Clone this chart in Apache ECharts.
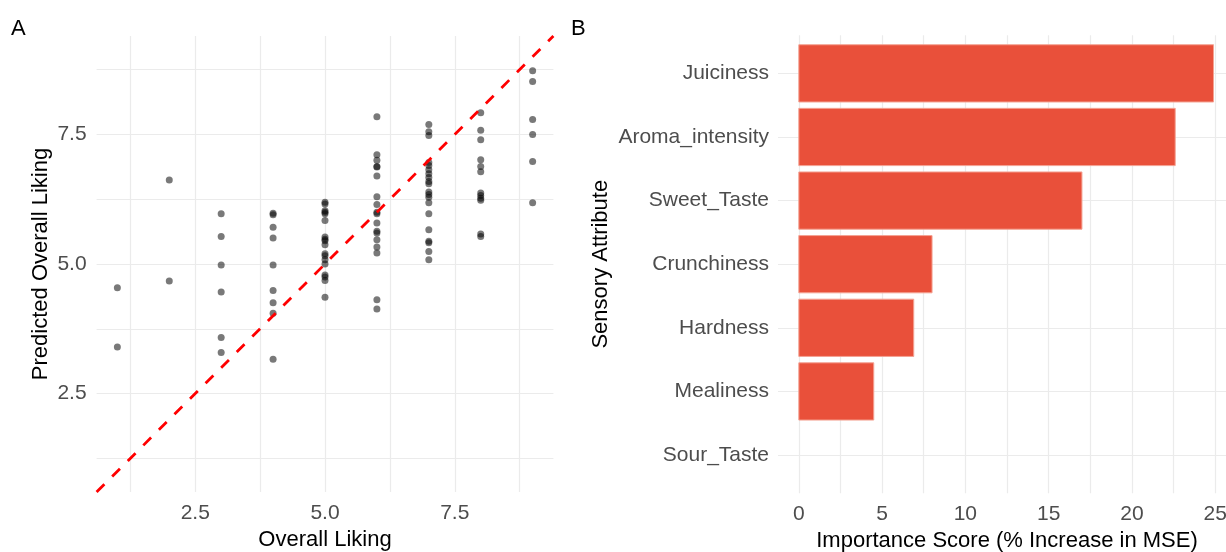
<!DOCTYPE html>
<html>
<head>
<meta charset="utf-8">
<script src="https://cdn.jsdelivr.net/npm/echarts@6/dist/echarts.min.js"></script>
<style>
html,body{margin:0;padding:0;background:#fff;}
#chart{width:1226px;height:552px;}
</style>
</head>
<body>
<div id="chart"></div>
<script>
// Panel A: observed vs predicted overall liking
const observedLiking = [
  1,1,
  2,2,
  3,3,3,3,3,3,
  4,4,4,4,4,4,4,4,4,
  5,5,5,5,5,5,5,5,5,5,5,5,5,5,5,5,5,5,
  6,6,6,6,6,6,6,6,6,6,6,6,6,6,6,6,6,6,
  7,7,7,7,7,7,7,7,7,7,7,7,7,7,7,7,7,7,7,7,
  8,8,8,8,8,8,8,8,8,8,8,8,
  9,9,9,9,9,9
];
const predictedLiking = [
  4.54,3.40,
  6.62,4.67,
  5.97,5.53,4.98,4.46,3.58,3.29,
  5.98,5.95,5.71,5.50,4.98,4.49,4.25,4.05,3.16,
  6.19,6.16,6.03,6.00,5.97,5.84,5.52,5.48,5.45,5.37,5.20,5.16,5.08,5.00,4.79,4.75,4.68,4.36,
  7.84,7.11,7.00,6.88,6.87,6.70,6.30,6.15,6.00,5.97,5.79,5.63,5.60,5.47,5.33,5.21,4.31,4.13,
  7.69,7.55,7.48,6.96,6.90,6.82,6.74,6.67,6.59,6.55,6.39,6.34,6.29,6.18,5.97,5.66,5.44,5.41,5.24,5.08,
  7.92,7.58,7.40,7.01,6.88,6.78,6.37,6.32,6.27,6.23,5.58,5.53,
  8.73,8.52,7.79,7.50,6.98,6.18
];
const likingRange = [0.6, 9.4];
const likingGridValues = [1.25, 2.5, 3.75, 5, 6.25, 7.5, 8.75];
const likingTickLabels = [2.5, 5, 7.5];

// Panel B: variable importance
const attributes = ['Juiciness','Aroma_intensity','Sweet_Taste','Crunchiness','Hardness','Mealiness','Sour_Taste'];
const importance = [24.9, 22.6, 17.0, 8.0, 6.9, 4.5, 0];
const importanceRange = [-1.25, 26.25];
const importanceGridValues = [0, 2.5, 5, 7.5, 10, 12.5, 15, 17.5, 20, 22.5, 25];
const importanceTickLabels = [0, 5, 10, 15, 20, 25];
const attributePositions = attributes.map((_, i) => i + 1);

const FONT = 'Liberation Sans, Arial, sans-serif';
const GRID_COLOR = '#EBEBEB';
const TICK_COLOR = '#4D4D4D';
const TICK_SIZE = 21;
const TITLE_SIZE = 22;
const BAR_COLOR = '#E9503A';

const chart = echarts.init(document.getElementById('chart'), null, {renderer: 'canvas'});

const splitLine = {show: true, lineStyle: {color: GRID_COLOR, width: 1.2}};

const option = {
  animation: false,
  backgroundColor: '#fff',
  textStyle: {fontFamily: FONT},
  graphic: [
    {type: 'text', left: 11, top: 18, style: {text: 'A', fontSize: 22, fontFamily: FONT, fill: '#000'}},
    {type: 'text', left: 571, top: 18, style: {text: 'B', fontSize: 22, fontFamily: FONT, fill: '#000'}}
  ],
  grid: [
    {left: 96.6, top: 36, width: 456.8, height: 456, containLabel: false, outerBoundsMode: 'none'},
    {left: 778, top: 35.2, width: 458, height: 458, containLabel: false, outerBoundsMode: 'none'}
  ],
  xAxis: [
    {
      type: 'value', gridIndex: 0, min: likingRange[0], max: likingRange[1],
      axisLine: {show: false},
      axisTick: {show: false, customValues: likingGridValues},
      axisLabel: {customValues: likingTickLabels, formatter: v => v.toFixed(1), color: TICK_COLOR, fontSize: TICK_SIZE, margin: 11, fontFamily: FONT},
      splitLine: splitLine,
      name: 'Overall Liking', nameLocation: 'middle', nameGap: 36,
      nameTextStyle: {color: '#000', fontSize: TITLE_SIZE, fontFamily: FONT}
    },
    {
      type: 'value', gridIndex: 1, min: importanceRange[0], max: importanceRange[1],
      axisLine: {show: false},
      axisTick: {show: false, customValues: importanceGridValues},
      axisLabel: {customValues: importanceTickLabels, color: TICK_COLOR, fontSize: TICK_SIZE, margin: 11, fontFamily: FONT},
      splitLine: splitLine,
      name: 'Importance Score (% Increase in MSE)', nameLocation: 'middle', nameGap: 35,
      nameTextStyle: {color: '#000', fontSize: TITLE_SIZE, fontFamily: FONT}
    }
  ],
  yAxis: [
    {
      type: 'value', gridIndex: 0, min: likingRange[0], max: likingRange[1],
      axisLine: {show: false},
      axisTick: {show: false, customValues: likingGridValues},
      axisLabel: {customValues: likingTickLabels, formatter: v => v.toFixed(1), color: TICK_COLOR, fontSize: TICK_SIZE, margin: 10, padding: [6, 0, 0, 0], fontFamily: FONT},
      splitLine: splitLine,
      name: 'Predicted Overall Liking', nameLocation: 'middle', nameGap: 45,
      nameTextStyle: {color: '#000', fontSize: TITLE_SIZE, fontFamily: FONT}
    },
    {
      type: 'value', gridIndex: 1, min: 0.4, max: attributes.length + 0.6, inverse: true,
      axisLine: {show: false},
      axisTick: {show: false, customValues: attributePositions},
      axisLabel: {customValues: attributePositions, formatter: v => attributes[Math.round(v) - 1], color: TICK_COLOR, fontSize: TICK_SIZE, margin: 9, padding: [3, 0, 0, 0], fontFamily: FONT},
      splitLine: splitLine,
      name: 'Sensory Attribute', nameLocation: 'middle', nameGap: 166,
      nameTextStyle: {color: '#000', fontSize: TITLE_SIZE, fontFamily: FONT}
    }
  ],
  series: [
    {
      type: 'line', xAxisIndex: 0, yAxisIndex: 0,
      data: [[likingRange[0], likingRange[0]], [likingRange[1], likingRange[1]]],
      showSymbol: false, symbol: 'none',
      lineStyle: {color: '#FF0000', width: 2.8, type: [11, 11]},
      silent: true, z: 3
    },
    {
      type: 'scatter', xAxisIndex: 0, yAxisIndex: 0,
      data: observedLiking.map((x, i) => [x, predictedLiking[i]]),
      symbol: 'circle', symbolSize: 7,
      itemStyle: {color: 'rgba(0,0,0,0.66)'},
      z: 2
    },
    {
      type: 'custom', xAxisIndex: 1, yAxisIndex: 1,
      data: importance.map((v, i) => [v, i + 1]),
      renderItem: function (params, api) {
        const v = api.value(0), idx = api.value(1);
        const p0 = api.coord([0, idx]);
        const p1 = api.coord([v, idx]);
        const h = Math.abs(api.size([0, 0.9])[1]);
        return {
          type: 'rect',
          shape: {x: Math.min(p0[0], p1[0]), y: p0[1] - h / 2, width: Math.abs(p1[0] - p0[0]), height: h},
          style: {fill: BAR_COLOR, stroke: v === 0 ? null : '#F4A293', lineWidth: 1}
        };
      },
      z: 2
    }
  ]
};
chart.setOption(option);
</script>
</body>
</html>
